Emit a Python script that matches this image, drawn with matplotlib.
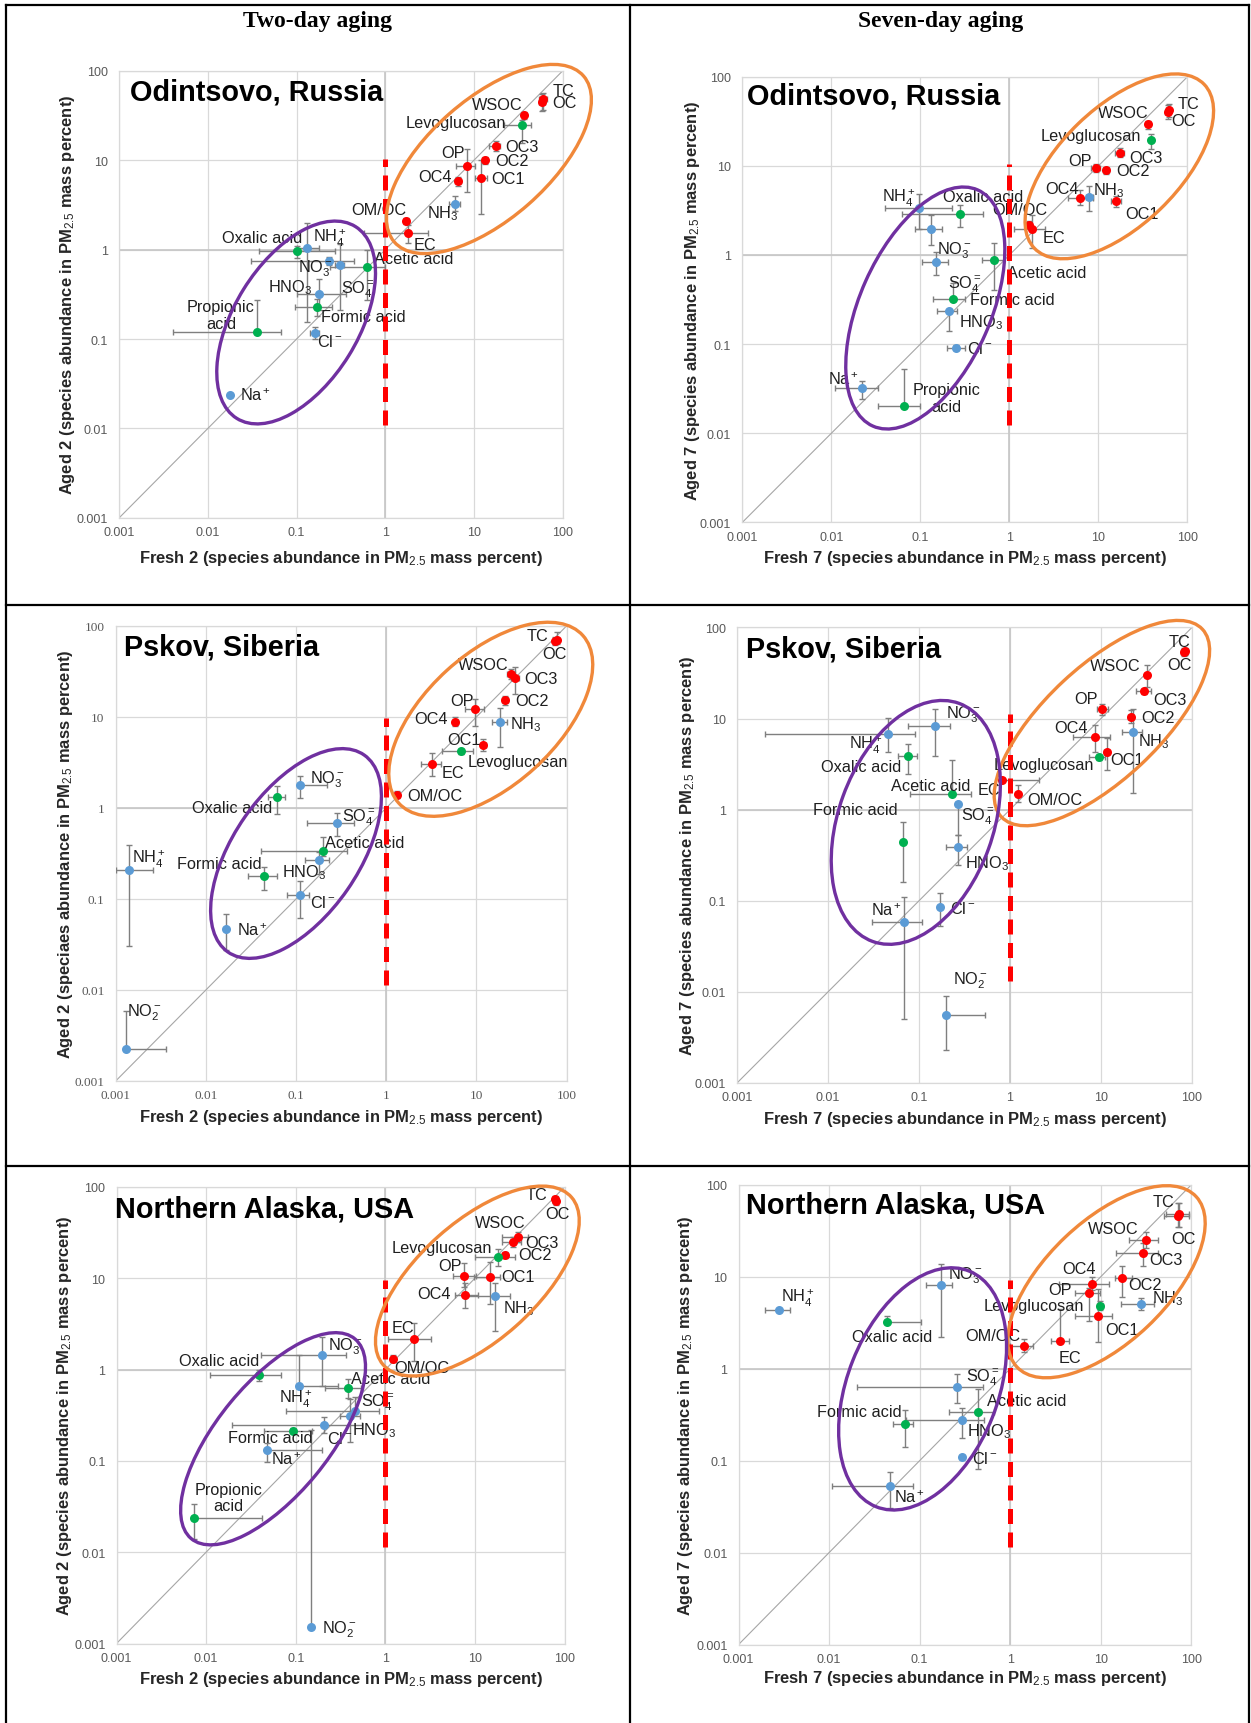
import matplotlib
matplotlib.use("Agg")
import matplotlib.pyplot as plt
from matplotlib.patches import Ellipse
from matplotlib.lines import Line2D

plt.rcParams["font.family"] = "Liberation Sans"
plt.rcParams["mathtext.fontset"] = "custom"
plt.rcParams["mathtext.rm"] = "Liberation Sans"
plt.rcParams["mathtext.it"] = "Liberation Sans:italic"
plt.rcParams["mathtext.bf"] = "Liberation Sans:bold"

# ---- data: species -> (x, y, x_low, x_high, y_low, y_high), mass percent ----
odintsovo_2 = {
    "TC": (60, 48, 55, 66, 37, 57),
    "OC": (58, 45, 54, 63, 36, 55),
    "WSOC": (37, 32, 35, 39, 29, 35),
    "Levoglucosan": (35, 25, 22, 44, 15.6, 28.6),
    "OC3": (17.7, 14.6, 15, 19.5, 12.8, 16.5),
    "OC2": (13.3, 10, 12.5, 14.2, 9, 11),
    "OP": (8.3, 8.6, 6.3, 10.4, 4.4, 13.5),
    "OC4": (6.7, 5.85, 6.2, 7.2, 5.2, 6.5),
    "OC1": (11.9, 6.4, 10.4, 14, 2.5, 10),
    "NH3": (6.05, 3.24, 5.2, 7.0, 2.7, 4.0),
    "OM/OC": (1.72, 2.1, 1.65, 1.8, 1.95, 2.25),
    "EC": (1.82, 1.53, 0.57, 3.0, 1.2, 1.9),
    "Oxalic acid": (0.1, 0.97, 0.038, 0.27, 0.8, 1.1),
    "NH4+": (0.132, 1.04, 0.1, 0.18, 0.155, 2.0),
    "NO3-": (0.23, 0.75, 0.031, 0.44, 0.68, 0.82),
    "SO4=": (0.305, 0.68, 0.27, 0.34, 0.21, 1.15),
    "Acetic acid": (0.62, 0.64, 0.24, 1.0, 0.27, 0.99),
    "HNO3": (0.18, 0.32, 0.10, 0.36, 0.21, 0.47),
    "Formic acid": (0.17, 0.23, 0.097, 0.25, 0.18, 0.28),
    "Cl-": (0.161, 0.118, 0.14, 0.18, 0.10, 0.135),
    "Propionic acid": (0.036, 0.12, 0.004, 0.067, 0.12, 0.275),
    "Na+": (0.0178, 0.0238, 0.0178, 0.0178, 0.0238, 0.0238),
}

odintsovo_7 = {
    "TC": (62, 42.5, 58, 66, 35, 50),
    "OC": (60, 40.5, 56, 64, 34, 48),
    "WSOC": (35.8, 29.3, 34, 37.5, 26, 32),
    "Levoglucosan": (38.8, 19.6, 37, 40.5, 15.5, 23),
    "OC3": (17.4, 14.1, 15.5, 19.5, 12.5, 16),
    "OP": (9.4, 9.5, 8.3, 10.5, 8.5, 10.5),
    "OC2": (12.2, 8.95, 11.3, 13.1, 8.2, 9.8),
    "OC4": (6.17, 4.39, 4.5, 8.8, 3.6, 5.3),
    "NH3": (7.9, 4.52, 7.2, 8.6, 3.1, 6.0),
    "OC1": (15.7, 4.08, 14, 18, 3.5, 4.6),
    "OM/OC": (1.64, 2.19, 1.55, 1.75, 2.0, 2.4),
    "EC": (1.81, 1.98, 1.13, 2.52, 1.2, 2.82),
    "NH4+": (0.097, 3.34, 0.0405, 0.225, 1.97, 4.9),
    "Oxalic acid": (0.282, 2.88, 0.0624, 0.5, 2.08, 3.62),
    "NO3-": (0.131, 1.98, 0.087, 0.175, 1.3, 2.82),
    "SO4=": (0.149, 0.84, 0.104, 0.203, 0.6, 1.08),
    "Acetic acid": (0.67, 0.89, 0.49, 0.86, 0.40, 1.35),
    "Formic acid": (0.23, 0.318, 0.14, 0.32, 0.318, 0.49),
    "HNO3": (0.21, 0.238, 0.152, 0.26, 0.14, 0.24),
    "Cl-": (0.253, 0.0914, 0.197, 0.32, 0.085, 0.098),
    "Na+": (0.0223, 0.0321, 0.0109, 0.0337, 0.024, 0.039),
    "Propionic acid": (0.0662, 0.02, 0.0337, 0.099, 0.02, 0.052),
}

pskov_2 = {
    "TC": (77.5, 70.7, 72, 82, 64, 85),
    "OC": (75, 67.6, 70, 80, 62, 75),
    "WSOC": (24.3, 29.7, 22, 27, 26, 34),
    "OC3": (26.9, 26.7, 24.5, 29.5, 18, 35.7),
    "OC2": (21, 15.3, 19.5, 22.5, 13.5, 17),
    "OP": (9.64, 12.1, 7.5, 12.2, 7.9, 15.7),
    "OC4": (5.83, 8.85, 5.5, 6.2, 8.0, 10),
    "NH3": (18.4, 8.85, 15, 22, 4.68, 12.7),
    "OC1": (12, 4.94, 11.2, 12.8, 4.2, 5.8),
    "Levoglucosan": (6.73, 4.19, 4.16, 9.25, 3.9, 4.5),
    "EC": (3.25, 3.08, 2.45, 4.1, 2.25, 4.0),
    "OM/OC": (1.31, 1.39, 1.25, 1.37, 1.28, 1.55),
    "NO3-": (0.11, 1.79, 0.11, 0.223, 1.28, 2.25),
    "Oxalic acid": (0.0618, 1.31, 0.049, 0.076, 0.85, 1.76),
    "SO4=": (0.282, 0.678, 0.131, 0.435, 0.49, 0.873),
    "Acetic acid": (0.201, 0.336, 0.041, 0.372, 0.3, 0.483),
    "HNO3": (0.182, 0.267, 0.127, 0.235, 0.189, 0.327),
    "Formic acid": (0.0446, 0.181, 0.0293, 0.0618, 0.125, 0.226),
    "Cl-": (0.11, 0.111, 0.08, 0.14, 0.0615, 0.157),
    "Na+": (0.0168, 0.0469, 0.0168, 0.0168, 0.0274, 0.068),
    "NH4+": (0.00139, 0.207, 0.001, 0.00257, 0.0305, 0.392),
    "NO2-": (0.00129, 0.00227, 0.00129, 0.0036, 0.00227, 0.0059),
}

pskov_7 = {
    "TC": (83.4, 55.3, 78, 90, 50, 60),
    "OC": (82, 54, 76, 88, 49, 59),
    "WSOC": (32.4, 29.8, 31, 34, 22, 38.5),
    "OC3": (29.9, 19.8, 24.5, 35, 18.5, 21),
    "OP": (10.2, 12.7, 9, 12, 11, 14.4),
    "OC2": (21.3, 10.5, 20, 22.5, 9, 12.5),
    "NH3": (22.6, 7.14, 17, 28, 1.52, 12.7),
    "OC4": (8.69, 6.23, 4.9, 12.7, 4.33, 8.57),
    "OC1": (11.5, 4.33, 10.8, 12.2, 2.7, 6.1),
    "Levoglucosan": (9.42, 3.77, 7.3, 11, 3.5, 4.0),
    "EC": (0.826, 2.09, 0.826, 2.09, 2.0, 2.2),
    "OM/OC": (1.21, 1.49, 1.15, 1.27, 1.2, 1.87),
    "NO3-": (0.15, 8.18, 0.0755, 0.221, 3.85, 12.7),
    "NH4+": (0.0456, 6.7, 0.00202, 0.0895, 4.25, 10.2),
    "Oxalic acid": (0.0755, 3.88, 0.059, 0.095, 2.45, 5.3),
    "Acetic acid": (0.228, 1.48, 0.079, 0.377, 1.48, 3.5),
    "SO4=": (0.265, 1.146, 0.255, 0.275, 0.533, 1.146),
    "HNO3": (0.265, 0.388, 0.197, 0.34, 0.246, 0.533),
    "Formic acid": (0.0662, 0.436, 0.0662, 0.0662, 0.161, 0.735),
    "Cl-": (0.169, 0.085, 0.169, 0.169, 0.0524, 0.121),
    "Na+": (0.0683, 0.0585, 0.0306, 0.107, 0.005, 0.111),
    "NO2-": (0.198, 0.00564, 0.198, 0.533, 0.00231, 0.0089),
}

alaska_2 = {
    "TC": (78.9, 73, 74, 84, 66, 80),
    "OC": (80, 70, 75, 85, 64, 76),
    "WSOC": (30.2, 28.4, 20, 39, 25, 32),
    "OC3": (26.7, 24.8, 20, 33, 22, 28),
    "OC2": (21.7, 17.9, 20.5, 23, 16.5, 19.5),
    "Levoglucosan": (18, 17.3, 10, 28, 13.8, 20.7),
    "OP": (7.5, 10.5, 5.7, 10.2, 8, 14.7),
    "OC1": (14.7, 10.4, 9.8, 19, 5.2, 15),
    "OC4": (7.74, 6.53, 6, 10.9, 4.7, 8.8),
    "NH3": (16.8, 6.42, 7.9, 24.5, 2.68, 8.8),
    "EC": (2.07, 2.18, 1.06, 3.2, 1.25, 3.2),
    "OM/OC": (1.23, 1.31, 1.18, 1.28, 1.2, 1.45),
    "NO3-": (0.199, 1.46, 0.041, 0.365, 0.664, 2.28),
    "Oxalic acid": (0.039, 0.87, 0.0111, 0.0687, 0.75, 1.0),
    "NH4+": (0.109, 0.664, 0.109, 0.3, 0.664, 1.46),
    "Acetic acid": (0.381, 0.635, 0.21, 0.54, 0.49, 0.78),
    "SO4=": (0.458, 0.354, 0.0785, 0.843, 0.354, 0.5),
    "HNO3": (0.405, 0.309, 0.31, 0.52, 0.16, 0.472),
    "Cl-": (0.209, 0.247, 0.0195, 0.552, 0.2, 0.3),
    "Formic acid": (0.0927, 0.214, 0.0446, 0.152, 0.2, 0.23),
    "Na+": (0.0474, 0.13, 0.0474, 0.196, 0.098, 0.157),
    "NO2-": (0.149, 0.0015, 0.149, 0.149, 0.0015, 0.22),
    "Propionic acid": (0.00724, 0.0238, 0.00724, 0.0419, 0.0139, 0.034),
}

alaska_7 = {
    "TC": (73.8, 48.1, 52, 94, 35, 63),
    "OC": (72, 46, 50.3, 94, 34.3, 62.8),
    "WSOC": (31.3, 25.1, 20.3, 42.4, 20.6, 30.8),
    "OC3": (28.9, 18, 14.7, 42.4, 13.2, 23.1),
    "OC2": (17.1, 9.64, 14.3, 22, 6, 13.2),
    "OC4": (7.93, 8.43, 3.46, 12.2, 7.1, 10),
    "OP": (7.38, 6.63, 5.2, 9.8, 3.3, 7.5),
    "Levoglucosan": (9.7, 4.81, 9.0, 10.5, 4.3, 5.5),
    "OC1": (9.22, 3.72, 5.2, 13.3, 1.97, 7.38),
    "NH3": (27.5, 5.03, 16.5, 39, 4.3, 5.9),
    "EC": (3.57, 2.02, 2.8, 4.4, 2.02, 4.4),
    "OM/OC": (1.41, 1.77, 0.99, 1.8, 1.5, 2.1),
    "NO3-": (0.17, 8.07, 0.117, 0.226, 2.21, 13.8),
    "NH4+": (0.0028, 4.29, 0.00197, 0.00372, 4.29, 4.29),
    "Oxalic acid": (0.0437, 3.25, 0.0437, 0.104, 3.25, 3.7),
    "SO4=": (0.261, 0.628, 0.0201, 0.498, 0.425, 0.867),
    "Acetic acid": (0.446, 0.34, 0.211, 0.655, 0.0815, 0.607),
    "Formic acid": (0.0695, 0.248, 0.051, 0.085, 0.139, 0.355),
    "HNO3": (0.292, 0.279, 0.071, 0.508, 0.177, 0.378),
    "Cl-": (0.292, 0.109, 0.28, 0.305, 0.109, 0.109),
    "Na+": (0.0469, 0.0531, 0.0109, 0.084, 0.0305, 0.0745),
}

# where the dashed x=1 separator starts and ends (y values)
separator_y = [(0.011, 10.4), (0.0124, 10.4), (0.0114, 9.7),
               (0.013, 11.2), (0.0113, 9.6), (0.0114, 9.2)]

ticks = [0.001, 0.01, 0.1, 1, 10, 100]
tick_labels = ["0.001", "0.01", "0.1", "1", "10", "100"]

# ---- label placement (data coords, left edge / vertical centre) ----
labels_o2 = {
    "TC": (77, 60.5), "OC": (77, 44.9), "WSOC": (9.55, 41.8), "Levoglucosan": (1.71, 26.6),
    "OC3": (22.7, 14.2), "OC2": (17.3, 10), "OP": (4.28, 12.2), "OC4": (2.38, 6.67),
    "OC1": (15.6, 6.34), "NH3": (2.94, 2.62), "OM/OC": (0.417, 2.81), "EC": (2.10, 1.15),
    "Oxalic acid": (0.0143, 1.37), "NH4+": (0.155, 1.37), "NO3-": (0.104, 0.62),
    "Acetic acid": (0.74, 0.80), "HNO3": (0.048, 0.39), "SO4=": (0.315, 0.364),
    "Propionic acid": (0.014, 0.186), "Formic acid": (0.19, 0.18), "Cl-": (0.172, 0.096),
    "Na+": (0.0231, 0.0236),
}
labels_o7 = {
    "TC": (77, 50.5), "OC": (66, 32.1), "WSOC": (9.9, 39.3), "Levoglucosan": (2.27, 22.1),
    "OC3": (22.3, 12.5), "OP": (4.58, 11.5), "OC2": (15.7, 8.96), "OC4": (2.52, 5.58),
    "NH3": (8.67, 5.42), "OC1": (20.1, 2.96), "OM/OC": (0.65, 3.27), "EC": (2.39, 1.58),
    "NH4+": (0.0373, 4.43), "Oxalic acid": (0.178, 4.52), "NO3-": (0.154, 1.15),
    "Acetic acid": (0.93, 0.64), "SO4=": (0.203, 0.475), "Formic acid": (0.358, 0.318),
    "HNO3": (0.271, 0.177), "Cl-": (0.333, 0.0904), "Na+": (0.0091, 0.0413),
    "Propionic acid": (0.197, 0.025),
}
labels_p2 = {
    "TC": (35.8, 78.9), "OC": (54, 50.5), "WSOC": (6.27, 37.3), "OC3": (34, 26.7),
    "OP": (5.1, 15.3), "OC2": (27.2, 15.0), "OC4": (2.07, 9.7), "NH3": (23.8, 8.45),
    "OC1": (4.7, 5.66), "Levoglucosan": (8.1, 3.27), "EC": (4.16, 2.43), "OM/OC": (1.70, 1.38),
    "NO3-": (0.144, 2.11), "Oxalic acid": (0.00703, 1.02), "SO4=": (0.326, 0.813),
    "Acetic acid": (0.212, 0.42), "NH4+": (0.0015, 0.277), "Formic acid": (0.00475, 0.244),
    "HNO3": (0.0706, 0.198), "Cl-": (0.144, 0.0927), "Na+": (0.0222, 0.046),
    "NO2-": (0.00132, 0.00575),
}
labels_p7 = {
    "TC": (55.8, 70.8), "OC": (53.6, 39.2), "WSOC": (7.55, 37.8), "OC3": (37.3, 16.2),
    "OP": (5.05, 16.6), "OC2": (27.6, 10.3), "OC4": (3.05, 8.04), "NH3": (25.2, 5.69),
    "OC1": (12.7, 3.54), "Levoglucosan": (0.656, 3.15), "EC": (0.439, 1.66), "OM/OC": (1.54, 1.30),
    "NO3-": (0.196, 11.2), "NH4+": (0.017, 5.19), "Oxalic acid": (0.00844, 3.0),
    "Acetic acid": (0.049, 1.82), "SO4=": (0.293, 0.857), "Formic acid": (0.00676, 1.0),
    "HNO3": (0.324, 0.262), "Cl-": (0.221, 0.0842), "Na+": (0.0297, 0.0788),
    "NO2-": (0.235, 0.0136),
}
labels_a2 = {
    "TC": (37.2, 83.5), "OC": (60.4, 50.9), "WSOC": (9.9, 40.6), "OC3": (36.4, 24.8),
    "Levoglucosan": (1.17, 22.0), "OC2": (30.2, 18.1), "OP": (3.92, 13.8), "OC1": (19.6, 10.4),
    "OC4": (2.29, 6.84), "NH3": (20.4, 4.77), "EC": (1.17, 2.91), "OM/OC": (1.27, 1.06),
    "NO3-": (0.232, 1.82), "Oxalic acid": (0.00494, 1.25), "Acetic acid": (0.418, 0.79),
    "NH4+": (0.0653, 0.485), "SO4=": (0.541, 0.444), "HNO3": (0.43, 0.22),
    "Formic acid": (0.0176, 0.179), "Cl-": (0.225, 0.179), "Na+": (0.0531, 0.107),
    "Propionic acid": (0.0179, 0.0397), "NO2-": (0.197, 0.00146),
}
labels_a7 = {
    "TC": (37.2, 65.8), "OC": (60.4, 26.2), "WSOC": (7.25, 33.7), "OC3": (34.6, 15.3),
    "OC4": (3.76, 12.3), "OC2": (19.9, 8.22), "OP": (2.61, 7.19), "NH3": (36.4, 5.9),
    "Levoglucosan": (0.508, 4.86), "OC1": (11.1, 2.64), "OM/OC": (0.316, 2.27), "EC": (3.4, 1.33),
    "NO3-": (0.207, 10.5), "NH4+": (0.00294, 5.9), "Oxalic acid": (0.0181, 2.26),
    "SO4=": (0.323, 0.83), "Acetic acid": (0.551, 0.456), "Formic acid": (0.00731, 0.34),
    "HNO3": (0.333, 0.212), "Cl-": (0.376, 0.106), "Na+": (0.0524, 0.0409),
}

display = {
    "NH3": r"NH$_3$", "NH4+": r"NH$_4^+$", "NO3-": r"NO$_3^-$", "SO4=": r"SO$_4^=$",
    "HNO3": r"HNO$_3$", "Cl-": r"Cl$^-$", "Na+": r"Na$^+$", "NO2-": r"NO$_2^-$",
    "Propionic acid": "Propionic\nacid",
}
carbon = {"TC", "OC", "WSOC", "OC1", "OC2", "OC3", "OC4", "OP", "EC", "OM/OC"}
organics = {"Levoglucosan", "Oxalic acid", "Acetic acid", "Formic acid", "Propionic acid"}
RED, GREEN, BLUE = "#ff0000", "#00b050", "#5b9bd5"

# panel boxes in pixels: left, right, top, bottom, xlabel y, ylabel x
W, H = 1251, 1724
panels = [
    dict(data=odintsovo_2, labels=labels_o2, title="Odintsovo, Russia", d=2,
         box=(119.3, 562.5, 72, 518.7), xl=559, yl=68, tpos=(0.024, 0.954),
         orange=(0.834, 0.803, 0.283, 0.135, 41), purple=(0.399, 0.437, 0.253, 0.14, 58)),
    dict(data=odintsovo_7, labels=labels_o7, title="Odintsovo, Russia", d=7,
         box=(742.4, 1187.4, 77.8, 523.3), xl=558, yl=693, tpos=(0.011, 0.958),
         orange=(0.847, 0.799, 0.265, 0.133, 44), purple=(0.411, 0.481, 0.29, 0.147, 66)),
    dict(data=pskov_2, labels=labels_p2, title="Pskov, Siberia", d=2,
         box=(115.7, 566.5, 627, 1082), xl=1117.4, yl=65.5, tpos=(0.018, 0.956),
         orange=(0.832, 0.795, 0.275, 0.145, 42), purple=(0.40, 0.50, 0.264, 0.139, 55),
         serif_ticks=True, typo=True),
    dict(data=pskov_7, labels=labels_p7, title="Pskov, Siberia", d=7,
         box=(737, 1192, 628.4, 1084), xl=1119.6, yl=687.6, tpos=(0.019, 0.953),
         orange=(0.802, 0.790, 0.302, 0.125, 43), purple=(0.393, 0.572, 0.278, 0.17, 70)),
    dict(data=alaska_2, labels=labels_a2, title="Northern Alaska, USA", d=2,
         box=(116.5, 564.5, 1188, 1644.5), xl=1679.4, yl=64.3, tpos=(-0.004, 0.953),
         orange=(0.8055, 0.794, 0.279, 0.131, 41), purple=(0.3495, 0.4485, 0.285, 0.124, 50)),
    dict(data=alaska_7, labels=labels_a7, title="Northern Alaska, USA", d=7,
         box=(738.5, 1191.4, 1185.7, 1645.6), xl=1679, yl=685.6, tpos=(0.017, 0.956),
         orange=(0.8125, 0.789, 0.271, 0.133, 43), purple=(0.4065, 0.556, 0.276, 0.166, 68)),
]

fig = plt.figure(figsize=(W / 100, H / 100), dpi=100)
fig.patch.set_facecolor("white")


def px(x, y):
    return x / W, 1 - y / H


for i, p in enumerate(panels):
    l, r, t, b = p["box"]
    ax = fig.add_axes([l / W, 1 - b / H, (r - l) / W, (b - t) / H])
    ax.set_xscale("log")
    ax.set_yscale("log")
    ax.set_xlim(1e-3, 1e2)
    ax.set_ylim(1e-3, 1e2)
    ax.set_xticks(ticks)
    ax.set_xticklabels(tick_labels)
    ax.set_yticks(ticks)
    ax.set_yticklabels(tick_labels)
    ax.minorticks_off()
    ax.tick_params(length=0, labelsize=9, labelcolor="#595959")
    ax.tick_params(axis="x", pad=6)
    ax.tick_params(axis="y", pad=8)
    if p.get("serif_ticks"):
        for lab in ax.get_xticklabels() + ax.get_yticklabels():
            lab.set_fontfamily("Liberation Serif")
            lab.set_fontsize(9.5)
    ax.grid(True, color="#d9d9d9", lw=0.9, zorder=0)
    ax.set_axisbelow(True)
    for s in ax.spines.values():
        s.set_color("#d9d9d9")
        s.set_linewidth(0.9)
    ax.axvline(1, color="#c6c6c6", lw=1.2, zorder=1)
    ax.axhline(1, color="#c6c6c6", lw=1.2, zorder=1)

    # 1:1 line
    ax.plot([1e-3, 1e2], [1e-3, 1e2], color="#a6a6a6", lw=0.8, zorder=1)

    # separator
    y0, y1 = separator_y[i]
    ax.plot([1, 1], [y0, y1], color=RED, lw=3.6, dashes=(3.0, 1.7), zorder=6,
            solid_capstyle="butt", dash_capstyle="butt")

    for name, (x, y, xlo, xhi, ylo, yhi) in p["data"].items():
        col = RED if name in carbon else (GREEN if name in organics else BLUE)
        if xhi > xlo:
            ax.errorbar([x], [y], xerr=[[x - xlo], [xhi - x]], fmt="none",
                        ecolor="#7f7f7f", elinewidth=1, capsize=2.2, capthick=1, zorder=3)
        if yhi > ylo:
            ax.errorbar([x], [y], yerr=[[y - ylo], [yhi - y]], fmt="none",
                        ecolor="#7f7f7f", elinewidth=1, capsize=2.2, capthick=1, zorder=3)
        ax.plot([x], [y], "o", color=col, ms=6.5, mec="none", zorder=4)

    for name, (lx, ly) in p["labels"].items():
        txt = display.get(name, name)
        ha = "center" if name == "Propionic acid" else "left"
        ax.text(lx, ly, txt, ha=ha, va="center", fontsize=11.7, color="#1f1f1f",
                linespacing=1.15, zorder=5)

    ax.text(p["tpos"][0], p["tpos"][1], p["title"], transform=ax.transAxes,
            ha="left", va="center", fontsize=20.8, fontweight="bold", color="black", zorder=7)

    for key, col in (("orange", "#f0883a"), ("purple", "#7030a0")):
        cx, cy, a, bb, ang = p[key]
        ax.add_patch(Ellipse((cx, cy), 2 * a, 2 * bb, angle=ang, transform=ax.transAxes,
                             fill=False, edgecolor=col, lw=2.4, clip_on=False, zorder=6))

    d = p["d"]
    sp = "speciaes" if p.get("typo") else "species"
    xlab = f"Fresh {d} (species abundance in PM$_{{2.5}}$ mass percent)"
    ylab = f"Aged {d} ({sp} abundance in PM$_{{2.5}}$ mass percent)"
    fig.text(*px((l + r) / 2, p["xl"]), xlab, ha="center", va="center",
             fontsize=11.9, fontweight="bold", color="#262626")
    fig.text(*px(p["yl"], (t + b) / 2), ylab, ha="center", va="center", rotation=90,
             fontsize=11.9, fontweight="bold", color="#262626")

# header row
fig.text(*px(318, 21), "Two-day aging", ha="center", va="center", fontsize=17,
         fontweight="bold", family="Liberation Serif")
fig.text(*px(941, 21), "Seven-day aging", ha="center", va="center", fontsize=17,
         fontweight="bold", family="Liberation Serif")

# table rules
rules = [((6, 6), (1249, 6)), ((6, 6), (6, 1724)), ((1249, 6), (1249, 1724)),
         ((630, 6), (630, 1724)), ((6, 606), (1249, 606)), ((6, 1167), (1249, 1167))]
for (x0, y0), (x1, y1) in rules:
    a0, b0 = px(x0, y0)
    a1, b1 = px(x1, y1)
    fig.add_artist(Line2D([a0, a1], [b0, b1], transform=fig.transFigure, color="black", lw=1.6))

fig.savefig("out.png", dpi=100)
